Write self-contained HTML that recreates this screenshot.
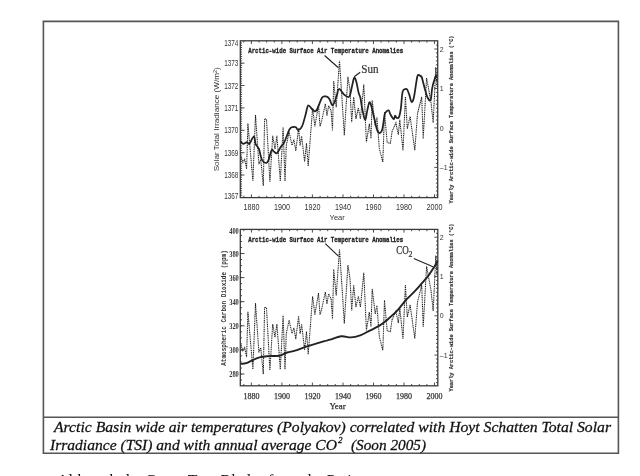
<!DOCTYPE html>
<html><head><meta charset="utf-8"><style>
html,body{margin:0;padding:0;background:#fff;width:640px;height:476px;overflow:hidden;position:relative}
</style></head><body>
<svg width="640" height="476" viewBox="0 0 640 476" style="position:absolute;left:0;top:0;filter:blur(0.35px)">
<path d="M43.4 21.4H618.4V453.3H43.4Z M43.4 417.3H618.4" fill="none" stroke="#555" stroke-width="1.6"/>
<g>
<rect x="240.3" y="40.8" width="197.4" height="156.8" fill="none" stroke="#3a3a3a" stroke-width="1.3"/>
<path d="M243.8 197.6v-1.8M243.8 40.8v1.8M251.4 197.6v-3.2M251.4 40.8v3.2M259 197.6v-1.8M259 40.8v1.8M266.7 197.6v-1.8M266.7 40.8v1.8M274.3 197.6v-1.8M274.3 40.8v1.8M281.9 197.6v-3.2M281.9 40.8v3.2M289.6 197.6v-1.8M289.6 40.8v1.8M297.2 197.6v-1.8M297.2 40.8v1.8M304.8 197.6v-1.8M304.8 40.8v1.8M312.4 197.6v-3.2M312.4 40.8v3.2M320.1 197.6v-1.8M320.1 40.8v1.8M327.7 197.6v-1.8M327.7 40.8v1.8M335.3 197.6v-1.8M335.3 40.8v1.8M343 197.6v-3.2M343 40.8v3.2M350.6 197.6v-1.8M350.6 40.8v1.8M358.2 197.6v-1.8M358.2 40.8v1.8M365.9 197.6v-1.8M365.9 40.8v1.8M373.5 197.6v-3.2M373.5 40.8v3.2M381.1 197.6v-1.8M381.1 40.8v1.8M388.7 197.6v-1.8M388.7 40.8v1.8M396.4 197.6v-1.8M396.4 40.8v1.8M404 197.6v-3.2M404 40.8v3.2M411.6 197.6v-1.8M411.6 40.8v1.8M419.3 197.6v-1.8M419.3 40.8v1.8M426.9 197.6v-1.8M426.9 40.8v1.8M434.5 197.6v-3.2M434.5 40.8v3.2M240.3 195.2h1.8M240.3 192.9h1.8M240.3 190.7h1.8M240.3 188.4h1.8M240.3 186.2h1.8M240.3 184h1.8M240.3 181.7h1.8M240.3 179.5h1.8M240.3 177.3h1.8M240.3 175h1.8M240.3 172.8h1.8M240.3 170.5h1.8M240.3 168.3h1.8M240.3 166.1h1.8M240.3 163.8h1.8M240.3 161.6h1.8M240.3 159.4h1.8M240.3 157.1h1.8M240.3 154.9h1.8M240.3 152.7h1.8M240.3 150.4h1.8M240.3 148.2h1.8M240.3 145.9h1.8M240.3 143.7h1.8M240.3 141.5h1.8M240.3 139.2h1.8M240.3 137h1.8M240.3 134.8h1.8M240.3 132.5h1.8M240.3 130.3h1.8M240.3 128h1.8M240.3 125.8h1.8M240.3 123.6h1.8M240.3 121.3h1.8M240.3 119.1h1.8M240.3 116.9h1.8M240.3 114.6h1.8M240.3 112.4h1.8M240.3 110.1h1.8M240.3 107.9h1.8M240.3 105.7h1.8M240.3 103.4h1.8M240.3 101.2h1.8M240.3 99h1.8M240.3 96.7h1.8M240.3 94.5h1.8M240.3 92.3h1.8M240.3 90h1.8M240.3 87.8h1.8M240.3 85.5h1.8M240.3 83.3h1.8M240.3 81.1h1.8M240.3 78.8h1.8M240.3 76.6h1.8M240.3 74.4h1.8M240.3 72.1h1.8M240.3 69.9h1.8M240.3 67.6h1.8M240.3 65.4h1.8M240.3 63.2h1.8M240.3 60.9h1.8M240.3 58.7h1.8M240.3 56.5h1.8M240.3 54.2h1.8M240.3 52h1.8M240.3 49.7h1.8M240.3 47.5h1.8M240.3 45.3h1.8M240.3 43h1.8M240.3 175h4.2M240.3 152.7h4.2M240.3 130.3h4.2M240.3 107.9h4.2M240.3 85.5h4.2M240.3 63.2h4.2M437.7 195h-1.8M437.7 191h-1.8M437.7 187.1h-1.8M437.7 183.1h-1.8M437.7 179.2h-1.8M437.7 175.2h-1.8M437.7 171.3h-1.8M437.7 167.4h-3.4M437.7 163.4h-1.8M437.7 159.5h-1.8M437.7 155.5h-1.8M437.7 151.6h-1.8M437.7 147.6h-1.8M437.7 143.7h-1.8M437.7 139.7h-1.8M437.7 135.8h-1.8M437.7 131.8h-1.8M437.7 127.9h-3.4M437.7 124h-1.8M437.7 120h-1.8M437.7 116.1h-1.8M437.7 112.1h-1.8M437.7 108.2h-1.8M437.7 104.2h-1.8M437.7 100.3h-1.8M437.7 96.3h-1.8M437.7 92.4h-1.8M437.7 88.5h-3.4M437.7 84.5h-1.8M437.7 80.6h-1.8M437.7 76.6h-1.8M437.7 72.7h-1.8M437.7 68.7h-1.8M437.7 64.8h-1.8M437.7 60.8h-1.8M437.7 56.9h-1.8M437.7 52.9h-1.8M437.7 49h-3.4M437.7 45.1h-1.8" stroke="#3a3a3a" stroke-width="0.9" fill="none"/>
<rect x="240.3" y="229.4" width="197.5" height="156.4" fill="none" stroke="#3a3a3a" stroke-width="1.3"/>
<path d="M243.8 385.8v-1.8M243.8 229.4v1.8M251.4 385.8v-3.2M251.4 229.4v3.2M259 385.8v-1.8M259 229.4v1.8M266.7 385.8v-1.8M266.7 229.4v1.8M274.3 385.8v-1.8M274.3 229.4v1.8M281.9 385.8v-3.2M281.9 229.4v3.2M289.6 385.8v-1.8M289.6 229.4v1.8M297.2 385.8v-1.8M297.2 229.4v1.8M304.8 385.8v-1.8M304.8 229.4v1.8M312.4 385.8v-3.2M312.4 229.4v3.2M320.1 385.8v-1.8M320.1 229.4v1.8M327.7 385.8v-1.8M327.7 229.4v1.8M335.3 385.8v-1.8M335.3 229.4v1.8M343 385.8v-3.2M343 229.4v3.2M350.6 385.8v-1.8M350.6 229.4v1.8M358.2 385.8v-1.8M358.2 229.4v1.8M365.9 385.8v-1.8M365.9 229.4v1.8M373.5 385.8v-3.2M373.5 229.4v3.2M381.1 385.8v-1.8M381.1 229.4v1.8M388.7 385.8v-1.8M388.7 229.4v1.8M396.4 385.8v-1.8M396.4 229.4v1.8M404 385.8v-3.2M404 229.4v3.2M411.6 385.8v-1.8M411.6 229.4v1.8M419.3 385.8v-1.8M419.3 229.4v1.8M426.9 385.8v-1.8M426.9 229.4v1.8M434.5 385.8v-3.2M434.5 229.4v3.2M240.3 380h1.8M240.3 374h1.8M240.3 368h1.8M240.3 362h1.8M240.3 355.9h1.8M240.3 349.9h1.8M240.3 343.9h1.8M240.3 337.9h1.8M240.3 331.8h1.8M240.3 325.8h1.8M240.3 319.8h1.8M240.3 313.8h1.8M240.3 307.7h1.8M240.3 301.7h1.8M240.3 295.7h1.8M240.3 289.6h1.8M240.3 283.6h1.8M240.3 277.6h1.8M240.3 271.6h1.8M240.3 265.6h1.8M240.3 259.5h1.8M240.3 253.5h1.8M240.3 247.5h1.8M240.3 241.5h1.8M240.3 235.4h1.8M240.3 374h4.2M240.3 349.9h4.2M240.3 325.8h4.2M240.3 301.7h4.2M240.3 277.6h4.2M240.3 253.5h4.2M437.8 382.6h-1.8M437.8 378.7h-1.8M437.8 374.8h-1.8M437.8 370.8h-1.8M437.8 366.9h-1.8M437.8 363h-1.8M437.8 359h-1.8M437.8 355.1h-3.4M437.8 351.2h-1.8M437.8 347.2h-1.8M437.8 343.3h-1.8M437.8 339.4h-1.8M437.8 335.4h-1.8M437.8 331.5h-1.8M437.8 327.6h-1.8M437.8 323.7h-1.8M437.8 319.7h-1.8M437.8 315.8h-3.4M437.8 311.9h-1.8M437.8 307.9h-1.8M437.8 304h-1.8M437.8 300.1h-1.8M437.8 296.2h-1.8M437.8 292.2h-1.8M437.8 288.3h-1.8M437.8 284.4h-1.8M437.8 280.4h-1.8M437.8 276.5h-3.4M437.8 272.6h-1.8M437.8 268.6h-1.8M437.8 264.7h-1.8M437.8 260.8h-1.8M437.8 256.9h-1.8M437.8 252.9h-1.8M437.8 249h-1.8M437.8 245.1h-1.8M437.8 241.1h-1.8M437.8 237.2h-3.4M437.8 233.3h-1.8" stroke="#3a3a3a" stroke-width="0.9" fill="none"/>
<path d="M241 156.7 242.8 162.2 244.7 159.4 246.6 168.8 247.9 123.4 252.9 181.1 255.5 114.9 258.9 164.1 260.8 159.4 263.3 185.8 264.6 118.7 266.5 119.7 269.9 182 272.7 135.7 275 149 276.9 135.7 280.3 181.1 283.1 127.2 285 181.1 286.3 145.2 289.1 131.9 292 145.2 293.9 139.5 295.8 150.8 298.6 128 300.1 145.5 301.6 136 304.6 161.7 306.5 143.3 308.2 166.1 312.6 108 314.9 126.4 318.5 104.7 320 126.4 321.5 121.7 325.3 103.8 327 115.6 328.6 105.5 331.1 110.5 332.5 130.8 333.7 81.1 336.2 107.2 339.5 60.9 342.1 100.4 344.3 135.2 347.9 76.9 350 90.3 351.7 122.2 353.7 97 355.9 118.8 358.4 107.9 360.4 118.8 363.8 84.4 366.4 142.2 369.3 123.9 371 138.5 372.2 100.4 375.2 125.6 376.9 117.2 379.4 148.9 382.8 162 384.5 112.1 387.2 142.6 390.4 143.3 392 131.7 395.9 122.9 398.3 134.7 399.8 119.7 403 150.7 405.4 96.7 407.3 128.8 410.1 116.5 414.8 150.2 417.5 113.7 421.7 96.9 423.2 138.7 426.6 78 430.9 101.4 433.2 122.7 435.8 67.2 437 86.7" fill="none" stroke="#1a1a1a" stroke-width="1.05" stroke-dasharray="1.1 0.7"/>
<path d="M241 345 242.8 350.5 244.7 347.7 246.6 357.1 247.9 311.7 252.9 369.4 255.5 303.2 258.9 352.4 260.8 347.7 263.3 374.1 264.6 307 266.5 308 269.9 370.3 272.7 324 275 337.3 276.9 324 280.3 369.4 283.1 315.5 285 369.4 286.3 333.5 289.1 320.2 292 333.5 293.9 327.8 295.8 339.1 298.6 316.3 300.1 333.8 301.6 324.3 304.6 350 306.5 331.6 308.2 354.4 312.6 296.3 314.9 314.7 318.5 293 320 314.7 321.5 310 325.3 292.1 327 303.9 328.6 293.8 331.1 298.8 332.5 319.1 333.7 269.4 336.2 295.5 339.5 249.2 342.1 288.7 344.3 323.5 347.9 265.2 350 278.6 351.7 310.5 353.7 285.3 355.9 307.1 358.4 296.2 360.4 307.1 363.8 272.7 366.4 330.5 369.3 312.2 371 326.8 372.2 288.7 375.2 313.9 376.9 305.5 379.4 337.2 382.8 350.3 384.5 300.4 387.2 330.9 390.4 331.6 392 320 395.9 311.2 398.3 323 399.8 308 403 339 405.4 285 407.3 317.1 410.1 304.8 414.8 338.5 417.5 302 421.7 285.2 423.2 327 426.6 266.3 430.9 289.7 433.2 311 435.8 255.5 437 275" fill="none" stroke="#1a1a1a" stroke-width="1.05" stroke-dasharray="1.1 0.7"/>
<path d="M240.7 141C241.1 141.5 242 143.6 243.1 143.8C244.2 144 246 142.1 247.1 142.1C248.2 142.1 248.3 144.8 249.4 143.8C250.5 142.8 252.9 136.2 253.9 136.3C254.9 136.4 254.9 142 255.7 144.1C256.5 146.2 257.8 146.3 258.9 148.9C259.9 151.5 260.8 157.6 262 159.9C263.2 162.2 264.9 162.9 266 163C267.1 163.1 267.4 162.8 268.3 160.7C269.2 158.6 270.6 151.9 271.5 150.4C272.4 148.9 273 151.1 273.9 151.5C274.8 151.9 275.8 153.9 277 153.1C278.2 152.3 279.8 148.2 281 146.5C282.2 144.8 282.7 145.5 284.1 142.6C285.5 139.7 288.2 131.8 289.6 129.2C291.1 126.6 291.8 127.4 292.8 127.1C293.9 126.8 295 126.8 295.9 127.3C296.8 127.8 297.2 130.2 298.3 130C299.4 129.8 301 128.6 302.2 126C303.4 123.4 304.7 117.6 305.7 114.2C306.7 110.8 307 106.1 308.2 105.4C309.4 104.7 311.2 109 312.6 109.8C314 110.6 314.8 112.4 316.4 110.4C318 108.4 320.5 100.1 322 97.8C323.5 95.5 324.2 96.5 325.2 96.4C326.2 96.3 327.1 96.6 327.9 97.2C328.7 97.8 329 98.5 329.8 99.8C330.6 101.1 331.6 105.7 332.7 105.2C333.8 104.7 335.4 99.3 336.5 96.6C337.6 93.9 337.7 89.3 339 89C340.3 88.7 342.5 93.3 344.1 94.7C345.7 96.1 347.5 97.2 348.5 97.2C349.5 97.2 349.6 96.5 350.2 94.5C350.8 92.5 351.6 87.8 352.3 85C353 82.2 353.5 78.2 354.2 77.7C354.9 77.2 355.6 79.4 356.4 82C357.1 84.6 358 90.5 358.7 93.1C359.4 95.7 359.8 95.2 360.4 97.7C361 100.2 361.3 104.4 362.1 108.1C362.9 111.8 364.1 119.3 365 119.7C365.9 120.1 366.6 113.3 367.3 110.4C368 107.5 368.7 103 369.4 102.3C370.1 101.6 370.6 103.7 371.4 106.4C372.2 109.1 373.3 114.5 374.3 118.5C375.3 122.5 376.2 127.7 377.2 130.1C378.1 132.5 379.1 133.2 380 133C380.9 132.8 381.6 132 382.4 128.9C383.2 125.8 384 117.4 384.7 114.5C385.4 111.6 385.7 112.3 386.4 111.6C387.1 110.9 388 109.9 388.7 110.4C389.4 110.9 389.7 113 390.5 114.5C391.3 116 392.9 118.9 393.7 119.1C394.5 119.3 394.6 115.8 395.1 115.6C395.6 115.4 396.1 117.8 396.8 118C397.5 118.2 398.4 118.5 399.1 116.8C399.8 115.1 400.3 112.2 400.9 108.1C401.5 103.9 401.8 95.1 402.6 91.9C403.4 88.7 404.7 89.4 405.5 89C406.3 88.6 406.5 88.5 407.2 89.6C407.9 90.7 408.8 93.3 409.5 95.4C410.2 97.5 410.9 101.7 411.7 102C412.4 102.3 413.1 101.1 414 97C414.9 92.9 416.3 81.2 417.1 77.5C417.9 73.8 418.2 75.2 418.8 75C419.4 74.8 420 75.8 420.5 76.2C421 76.6 421.1 75.2 421.8 77.4C422.6 79.6 424 86.1 425 89.5C426 92.9 426.9 96.2 427.8 98C428.7 99.8 429.8 101.8 430.6 100C431.4 98.2 431.6 90.7 432.4 87C433.1 83.3 434.4 79.7 435.1 77.6C435.8 75.5 436.4 75 436.6 74.5" fill="none" stroke="#222" stroke-width="1.75" stroke-linejoin="round"/>
<path d="M240.5 363.9C241.5 363.8 244.3 363.8 246.3 363.2C248.3 362.6 250.2 361.1 252.6 360.1C255 359.1 257.9 357.9 260.5 357.2C263.1 356.5 265.2 356.4 268.3 356.1C271.4 355.9 276.2 356.3 279.4 355.7C282.5 355.1 284.6 353.3 287.2 352.5C289.8 351.7 292.4 351.5 295 350.7C297.6 349.9 300.6 348.6 303 347.8C305.4 347 306.1 346.7 309.7 345.6C313.3 344.5 321 342.2 324.4 341.2C327.8 340.2 327.2 340.5 330 339.7C332.8 338.9 337.8 336.7 341.3 336.3C344.8 335.9 347.7 337.6 350.8 337.4C353.9 337.2 357.1 336.4 360.2 335.3C363.3 334.2 366.5 332.2 369.7 330.6C372.9 329 376.3 327.6 379.1 325.9C381.9 324.2 383.9 322.6 386.7 320.2C389.5 317.8 393 315 396.2 311.7C399.4 308.4 402.5 303.9 405.6 300.4C408.8 296.9 412.3 293.9 415.1 290.9C417.9 287.9 420.4 284.9 422.6 282.4C424.8 279.9 426.4 278.3 428.3 275.8C430.2 273.3 432.4 269.8 434 267.3C435.6 264.8 437 262.1 437.6 261" fill="none" stroke="#222" stroke-width="1.9" stroke-linejoin="round"/>
<path d="M324.6 55.5L338.4 67.8M360.2 72.3L354.2 76.8M325.3 243.6L338.4 256.2M413.8 258.5L433 266.8" stroke="#222" stroke-width="1.15" fill="none"/>
<text x="248.2" y="52.6" style="font-family:'Liberation Mono',monospace;font-weight:bold;font-size:8.1px;stroke:#222;stroke-width:0.35px" textLength="155" lengthAdjust="spacingAndGlyphs" fill="#222">Arctic-wide Surface Air Temperature Anomalies</text>
<text x="248.2" y="241.6" style="font-family:'Liberation Mono',monospace;font-weight:bold;font-size:8.1px;stroke:#222;stroke-width:0.35px" textLength="155" lengthAdjust="spacingAndGlyphs" fill="#222">Arctic-wide Surface Air Temperature Anomalies</text>
<text x="361.3" y="72.8" style="font-family:'Liberation Serif',serif;font-size:11.5px;stroke:#333;stroke-width:0.2px" textLength="17.3" lengthAdjust="spacingAndGlyphs" fill="#333">Sun</text>
<text x="396.2" y="254" style="font-family:'Liberation Serif',serif;font-size:11.5px;stroke:#333;stroke-width:0.25px" textLength="12.5" lengthAdjust="spacingAndGlyphs" fill="#333">CO</text>
<text x="408.4" y="257.3" style="font-family:'Liberation Serif',serif;font-size:8px;stroke:#333;stroke-width:0.2px" fill="#333">2</text>
<text x="251.4" y="210.2" text-anchor="middle" style="font-family:'Liberation Sans',sans-serif;font-size:8.3px" textLength="16" lengthAdjust="spacingAndGlyphs" fill="#333">1880</text>
<text x="281.9" y="210.2" text-anchor="middle" style="font-family:'Liberation Sans',sans-serif;font-size:8.3px" textLength="16" lengthAdjust="spacingAndGlyphs" fill="#333">1900</text>
<text x="312.4" y="210.2" text-anchor="middle" style="font-family:'Liberation Sans',sans-serif;font-size:8.3px" textLength="16" lengthAdjust="spacingAndGlyphs" fill="#333">1920</text>
<text x="343" y="210.2" text-anchor="middle" style="font-family:'Liberation Sans',sans-serif;font-size:8.3px" textLength="16" lengthAdjust="spacingAndGlyphs" fill="#333">1940</text>
<text x="373.5" y="210.2" text-anchor="middle" style="font-family:'Liberation Sans',sans-serif;font-size:8.3px" textLength="16" lengthAdjust="spacingAndGlyphs" fill="#333">1960</text>
<text x="404" y="210.2" text-anchor="middle" style="font-family:'Liberation Sans',sans-serif;font-size:8.3px" textLength="16" lengthAdjust="spacingAndGlyphs" fill="#333">1980</text>
<text x="434.5" y="210.2" text-anchor="middle" style="font-family:'Liberation Sans',sans-serif;font-size:8.3px" textLength="16" lengthAdjust="spacingAndGlyphs" fill="#333">2000</text>
<text x="251.4" y="398.7" text-anchor="middle" style="font-family:'Liberation Serif',serif;font-size:8.3px;stroke:#333;stroke-width:0.25px" textLength="16" lengthAdjust="spacingAndGlyphs" fill="#333">1880</text>
<text x="281.9" y="398.7" text-anchor="middle" style="font-family:'Liberation Serif',serif;font-size:8.3px;stroke:#333;stroke-width:0.25px" textLength="16" lengthAdjust="spacingAndGlyphs" fill="#333">1900</text>
<text x="312.4" y="398.7" text-anchor="middle" style="font-family:'Liberation Serif',serif;font-size:8.3px;stroke:#333;stroke-width:0.25px" textLength="16" lengthAdjust="spacingAndGlyphs" fill="#333">1920</text>
<text x="343" y="398.7" text-anchor="middle" style="font-family:'Liberation Serif',serif;font-size:8.3px;stroke:#333;stroke-width:0.25px" textLength="16" lengthAdjust="spacingAndGlyphs" fill="#333">1940</text>
<text x="373.5" y="398.7" text-anchor="middle" style="font-family:'Liberation Serif',serif;font-size:8.3px;stroke:#333;stroke-width:0.25px" textLength="16" lengthAdjust="spacingAndGlyphs" fill="#333">1960</text>
<text x="404" y="398.7" text-anchor="middle" style="font-family:'Liberation Serif',serif;font-size:8.3px;stroke:#333;stroke-width:0.25px" textLength="16" lengthAdjust="spacingAndGlyphs" fill="#333">1980</text>
<text x="434.5" y="398.7" text-anchor="middle" style="font-family:'Liberation Serif',serif;font-size:8.3px;stroke:#333;stroke-width:0.25px" textLength="16" lengthAdjust="spacingAndGlyphs" fill="#333">2000</text>
<text x="337.2" y="220" text-anchor="middle" style="font-family:'Liberation Sans',sans-serif;font-size:7.5px" fill="#333">Year</text>
<text x="337.5" y="408.5" text-anchor="middle" style="font-family:'Liberation Serif',serif;font-size:8.8px;stroke:#333;stroke-width:0.25px" fill="#333">Year</text>
<text x="238.4" y="198.6" text-anchor="end" style="font-family:'Liberation Sans',sans-serif;font-size:8.2px" textLength="14.2" lengthAdjust="spacingAndGlyphs" fill="#333">1367</text>
<text x="238.4" y="178" text-anchor="end" style="font-family:'Liberation Sans',sans-serif;font-size:8.2px" textLength="14.2" lengthAdjust="spacingAndGlyphs" fill="#333">1368</text>
<text x="238.4" y="155.7" text-anchor="end" style="font-family:'Liberation Sans',sans-serif;font-size:8.2px" textLength="14.2" lengthAdjust="spacingAndGlyphs" fill="#333">1369</text>
<text x="238.4" y="133.3" text-anchor="end" style="font-family:'Liberation Sans',sans-serif;font-size:8.2px" textLength="14.2" lengthAdjust="spacingAndGlyphs" fill="#333">1370</text>
<text x="238.4" y="110.9" text-anchor="end" style="font-family:'Liberation Sans',sans-serif;font-size:8.2px" textLength="14.2" lengthAdjust="spacingAndGlyphs" fill="#333">1371</text>
<text x="238.4" y="88.5" text-anchor="end" style="font-family:'Liberation Sans',sans-serif;font-size:8.2px" textLength="14.2" lengthAdjust="spacingAndGlyphs" fill="#333">1372</text>
<text x="238.4" y="66.2" text-anchor="end" style="font-family:'Liberation Sans',sans-serif;font-size:8.2px" textLength="14.2" lengthAdjust="spacingAndGlyphs" fill="#333">1373</text>
<text x="238.4" y="45.8" text-anchor="end" style="font-family:'Liberation Sans',sans-serif;font-size:8.2px" textLength="14.2" lengthAdjust="spacingAndGlyphs" fill="#333">1374</text>
<text x="238.8" y="377" text-anchor="end" style="font-family:'Liberation Serif',serif;font-weight:bold;font-size:8.2px" textLength="9.6" lengthAdjust="spacingAndGlyphs" fill="#333">280</text>
<text x="238.8" y="352.9" text-anchor="end" style="font-family:'Liberation Serif',serif;font-weight:bold;font-size:8.2px" textLength="9.6" lengthAdjust="spacingAndGlyphs" fill="#333">300</text>
<text x="238.8" y="328.8" text-anchor="end" style="font-family:'Liberation Serif',serif;font-weight:bold;font-size:8.2px" textLength="9.6" lengthAdjust="spacingAndGlyphs" fill="#333">320</text>
<text x="238.8" y="304.7" text-anchor="end" style="font-family:'Liberation Serif',serif;font-weight:bold;font-size:8.2px" textLength="9.6" lengthAdjust="spacingAndGlyphs" fill="#333">340</text>
<text x="238.8" y="280.6" text-anchor="end" style="font-family:'Liberation Serif',serif;font-weight:bold;font-size:8.2px" textLength="9.6" lengthAdjust="spacingAndGlyphs" fill="#333">360</text>
<text x="238.8" y="256.5" text-anchor="end" style="font-family:'Liberation Serif',serif;font-weight:bold;font-size:8.2px" textLength="9.6" lengthAdjust="spacingAndGlyphs" fill="#333">380</text>
<text x="238.8" y="233.9" text-anchor="end" style="font-family:'Liberation Serif',serif;font-weight:bold;font-size:8.2px" textLength="9.6" lengthAdjust="spacingAndGlyphs" fill="#333">400</text>
<text x="439.8" y="170" style="font-family:'Liberation Sans',sans-serif;font-size:7px" fill="#333">&#8211;1</text>
<text x="439.8" y="130.5" style="font-family:'Liberation Sans',sans-serif;font-size:7px" fill="#333">0</text>
<text x="439.8" y="91" style="font-family:'Liberation Sans',sans-serif;font-size:7px" fill="#333">1</text>
<text x="439.8" y="51.6" style="font-family:'Liberation Sans',sans-serif;font-size:7px" fill="#333">2</text>
<text x="439.8" y="357.7" style="font-family:'Liberation Sans',sans-serif;font-size:7px" fill="#333">&#8211;1</text>
<text x="439.8" y="318.4" style="font-family:'Liberation Sans',sans-serif;font-size:7px" fill="#333">0</text>
<text x="439.8" y="279.1" style="font-family:'Liberation Sans',sans-serif;font-size:7px" fill="#333">1</text>
<text x="439.8" y="239.8" style="font-family:'Liberation Sans',sans-serif;font-size:7px" fill="#333">2</text>
<text transform="translate(219,119.3) rotate(-90)" text-anchor="middle" style="font-family:'Liberation Sans',sans-serif;font-size:7.4px" textLength="104" lengthAdjust="spacingAndGlyphs" fill="#333">Solar Total Irradiance (W/m<tspan dy="-2" font-size="5">2</tspan><tspan dy="2">)</tspan></text>
<text transform="translate(225.9,308) rotate(-90)" text-anchor="middle" style="font-family:'Liberation Mono',monospace;font-weight:bold;font-size:6.8px" textLength="115.5" lengthAdjust="spacingAndGlyphs" fill="#333">Atmospheric Carbon Dioxide (ppm)</text>
<text transform="translate(452.6,119.5) rotate(-90)" text-anchor="middle" style="font-family:'Liberation Mono',monospace;font-weight:bold;font-size:6.2px;stroke:#333;stroke-width:0.2px" textLength="168" lengthAdjust="spacingAndGlyphs" fill="#333">Yearly Arctic-wide Surface Temperature Anomalies (&#176;C)</text>
<text transform="translate(452.6,307.5) rotate(-90)" text-anchor="middle" style="font-family:'Liberation Mono',monospace;font-weight:bold;font-size:6.2px;stroke:#333;stroke-width:0.2px" textLength="168" lengthAdjust="spacingAndGlyphs" fill="#333">Yearly Arctic-wide Surface Temperature Anomalies (&#176;C)</text>
</g>
<text x="54" y="431.5" style="font-family:'Liberation Serif',serif;font-style:italic;font-size:15.6px;stroke:#111;stroke-width:0.28px" textLength="557" lengthAdjust="spacingAndGlyphs" fill="#111">Arctic Basin wide air temperatures (Polyakov) correlated with Hoyt Schatten Total Solar</text>
<text x="50" y="449.5" style="font-family:'Liberation Serif',serif;font-style:italic;font-size:15.6px;stroke:#111;stroke-width:0.28px" fill="#111"><tspan textLength="287" lengthAdjust="spacingAndGlyphs">Irradiance (TSI) and with annual average CO</tspan></text>
<text x="338" y="443" style="font-family:'Liberation Serif',serif;font-style:italic;font-size:15.6px;stroke:#111;stroke-width:0.28px;font-size:9px" fill="#111">2</text>
<text x="351" y="449.5" style="font-family:'Liberation Serif',serif;font-style:italic;font-size:15.6px;stroke:#111;stroke-width:0.28px" textLength="75" lengthAdjust="spacingAndGlyphs" fill="#111">(Soon 2005)</text>
<text x="57" y="486" style="font-family:'Liberation Serif',serif;font-size:16px" fill="#111">Although the Green Tree Blades from the Petit</text>
</svg>
</body></html>
